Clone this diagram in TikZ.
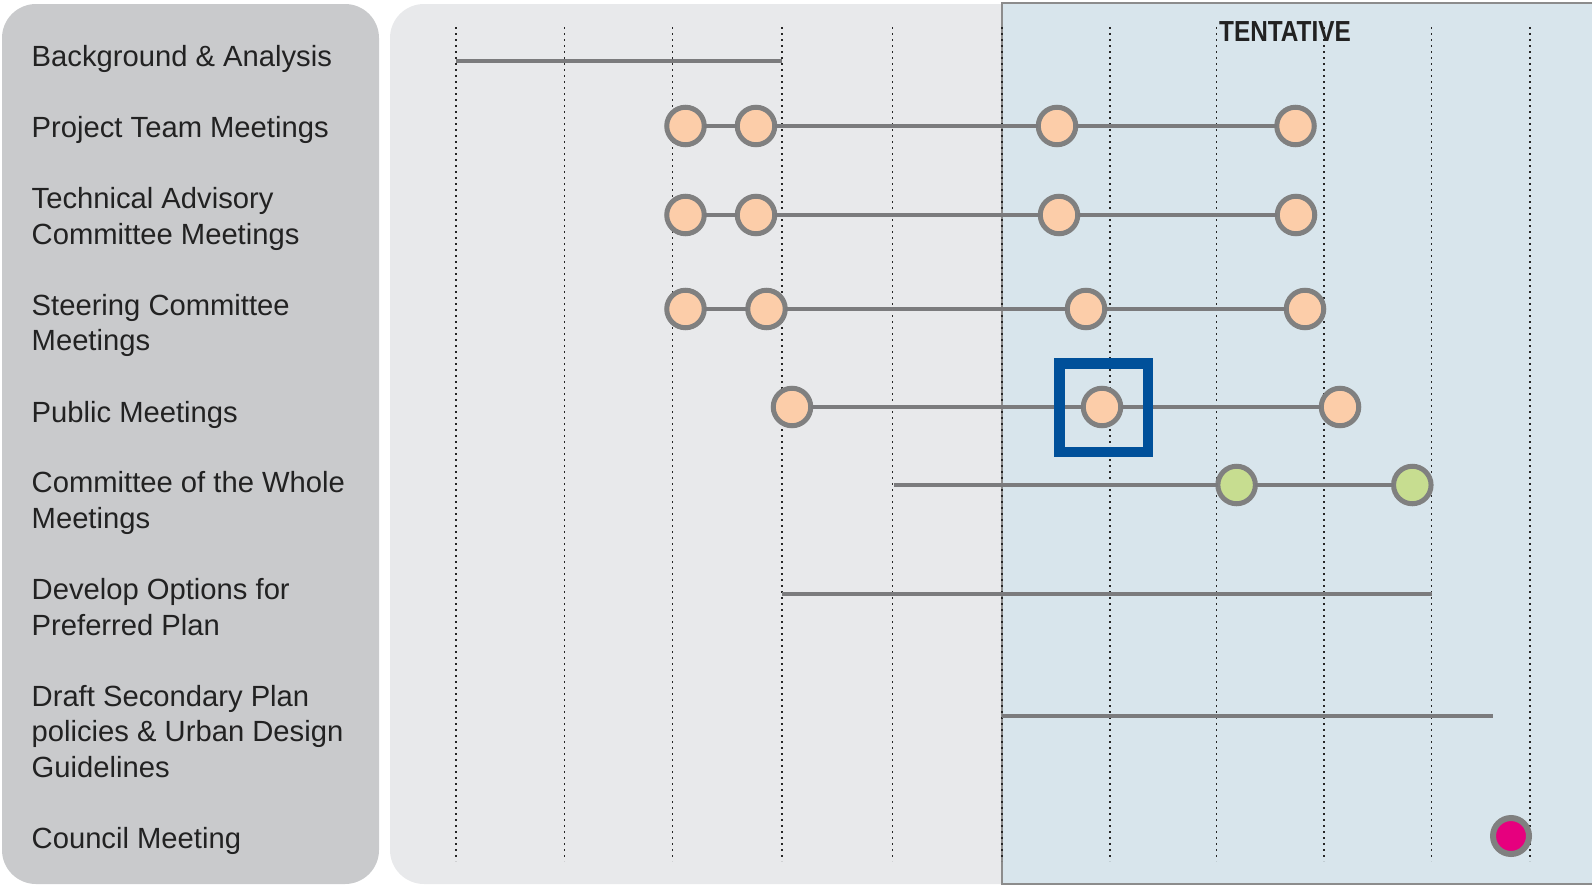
\documentclass[tikz,border=0pt]{standalone}
\usepackage{fontspec}
\setmainfont{Liberation Sans}
\definecolor{panelL}{HTML}{C9CACC}
\definecolor{panelR}{HTML}{E8E9EB}
\definecolor{tentfill}{HTML}{D8E5EC}
\definecolor{tentedge}{HTML}{8C8C8C}
\definecolor{bargray}{HTML}{7B7B7D}
\definecolor{ringgray}{HTML}{808080}
\definecolor{peach}{HTML}{FCCDA9}
\definecolor{leaf}{HTML}{C7DD90}
\definecolor{magenta}{HTML}{E6007E}
\definecolor{navy}{HTML}{00509A}
\definecolor{labeltext}{HTML}{222222}
\begin{document}
\begin{tikzpicture}[x=1pt,y=-1pt,
  % multi-line labels sit on the baseline of their last line
  lbl/.style={anchor=base west, align=left, inner sep=0pt, text=labeltext,
    font=\fontsize{29.2}{35.5}\selectfont},
  bar/.style={draw=bargray, line width=4.8pt},
  evt/.style={circle, draw=ringgray, line width=5pt, minimum size=37.5pt,
    inner sep=0pt, outer sep=0pt, fill=peach},
  cow/.style={evt, fill=leaf},
  council/.style={evt, fill=magenta, line width=6pt, minimum size=36pt},
  gridline/.style={draw=black!85, line width=1.4pt, dash pattern=on 2pt off 4pt},
  focusbox/.style={draw=navy, line width=10.7pt, minimum size=88.3pt, inner sep=0pt,
    fill=none}
]
\useasboundingbox (0,0) rectangle (1592,886);

% panels
\fill[panelL, rounded corners=34pt] (2,4) rectangle (379,884);
\fill[panelR, rounded corners=34pt] (390,4) rectangle (1640,884);
\filldraw[fill=tentfill, draw=tentedge, line width=2pt] (1002,3) rectangle (1600,884);

% time grid
\foreach \gx in {456,564.5,672.2,781.8,892.4,1002,1110,1216.5,1324,1431.5,1530}
  \draw[gridline] (\gx,27) -- (\gx,861);

\node[anchor=base, inner sep=0pt, text=labeltext,
  font=\fontsize{29}{34}\selectfont\bfseries] (tent) at (1285,41)
  {\scalebox{0.84}[1]{TENTATIVE}};

% row labels
\node[lbl] (l1) at (31.5,66) {Background \& Analysis};
\node[lbl] (l2) at (31.5,137.5) {Project Team Meetings};
\node[lbl] (l3) at (31.5,244) {Technical Advisory\\Committee Meetings};
\node[lbl] (l4) at (31.5,350.5) {Steering Committee\\Meetings};
\node[lbl] (l5) at (31.5,422) {Public Meetings};
\node[lbl] (l6) at (31.5,528) {Committee of the Whole\\Meetings};
\node[lbl] (l7) at (31.5,635) {Develop Options for\\Preferred Plan};
\node[lbl] (l8) at (31.5,777) {Draft Secondary Plan\\policies \& Urban Design\\Guidelines};
\node[lbl] (l9) at (31.5,848) {Council Meeting};

% free bar ends
\coordinate (bgA) at (456,61);
\coordinate (bgB) at (782,61);
\coordinate (cwA) at (893.5,485);
\coordinate (doA) at (782,594);
\coordinate (doB) at (1431.6,594);
\coordinate (drA) at (1002,716);
\coordinate (drB) at (1492.5,716);

% events
\node[evt] (pt1) at (685.5,126) {};
\node[evt] (pt2) at (756,126) {};
\node[evt] (pt3) at (1057,126) {};
\node[evt] (pt4) at (1295.5,126) {};

\node[evt] (ta1) at (685.5,215) {};
\node[evt] (ta2) at (756,215) {};
\node[evt] (ta3) at (1059,215) {};
\node[evt] (ta4) at (1296,215) {};

\node[evt] (sc1) at (685.5,309) {};
\node[evt] (sc2) at (766.5,309) {};
\node[evt] (sc3) at (1086,309) {};
\node[evt] (sc4) at (1305,309) {};

\node[evt] (pm1) at (792,407) {};
\node[evt] (pm2) at (1102,407) {};
\node[evt] (pm3) at (1340,407) {};

\node[cow] (cw1) at (1236.6,485) {};
\node[cow] (cw2) at (1412.3,485) {};

\node[council] (cm1) at (1511,836) {};

% bars between events
\draw[bar] (bgA) -- (bgB);
\draw[bar] (pt1) -- (pt2) -- (pt3) -- (pt4);
\draw[bar] (ta1) -- (ta2) -- (ta3) -- (ta4);
\draw[bar] (sc1) -- (sc2) -- (sc3) -- (sc4);
\draw[bar] (pm1) -- (pm2) -- (pm3);
\draw[bar] (cwA) -- (cw1) -- (cw2);
\draw[bar] (doA) -- (doB);
\draw[bar] (drA) -- (drB);

% highlight
\node[focusbox] (focus) at (1103.8,407.8) {};
\end{tikzpicture}
\end{document}
